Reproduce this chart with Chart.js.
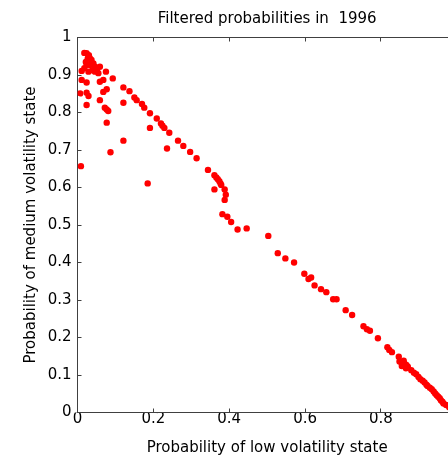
<!DOCTYPE html>
<html>
<head>
<meta charset="utf-8">
<script src="https://cdn.jsdelivr.net/npm/chart.js@4.4.1/dist/chart.umd.min.js"></script>
<style>
  html, body { margin: 0; padding: 0; background: #fff; overflow: hidden; }
  canvas { display: block; }
</style>
</head>
<body>
<canvas id="probChart" width="460" height="461"></canvas>
<script>
// filtered state probabilities, one entry per day
const lowProb = [
  0.009, 0.007, 0.011, 0.011, 0.018, 0.018, 0.024, 0.030, 0.033, 0.037,
  0.027, 0.022, 0.024, 0.033, 0.042, 0.046, 0.051, 0.055, 0.039, 0.029,
  0.059, 0.046, 0.024, 0.075, 0.093, 0.068, 0.059, 0.024, 0.029, 0.024,
  0.068, 0.077, 0.059, 0.121, 0.121, 0.072, 0.077, 0.081, 0.077, 0.121,
  0.087, 0.137, 0.150, 0.156, 0.170, 0.176, 0.191, 0.209, 0.220, 0.224,
  0.229, 0.242, 0.191, 0.265, 0.279, 0.297, 0.236, 0.314, 0.185, 0.344,
  0.361, 0.366, 0.370, 0.374, 0.377, 0.379, 0.361, 0.388, 0.391, 0.388,
  0.382, 0.395, 0.405, 0.422, 0.446, 0.503, 0.528, 0.548, 0.571, 0.598,
  0.609, 0.616, 0.625, 0.642, 0.656, 0.674, 0.683, 0.707, 0.724, 0.754,
  0.763, 0.771, 0.792, 0.817, 0.822, 0.829, 0.847, 0.849, 0.855, 0.862,
  0.867, 0.871, 0.855, 0.860, 0.866, 0.880, 0.887, 0.893, 0.899, 0.904,
  0.910, 0.915, 0.920, 0.923, 0.929, 0.934, 0.939, 0.943, 0.947, 0.951,
  0.955, 0.958, 0.962, 0.965, 0.972, 0.980, 0.990
];
const mediumProb = [
  0.657, 0.851, 0.887, 0.911, 0.918, 0.959, 0.958, 0.953, 0.944, 0.940,
  0.944, 0.935, 0.927, 0.927, 0.931, 0.922, 0.913, 0.905, 0.913, 0.909,
  0.922, 0.909, 0.880, 0.909, 0.891, 0.887, 0.882, 0.853, 0.844, 0.820,
  0.855, 0.862, 0.833, 0.867, 0.826, 0.813, 0.808, 0.804, 0.773, 0.725,
  0.694, 0.857, 0.840, 0.833, 0.823, 0.813, 0.798, 0.784, 0.771, 0.765,
  0.759, 0.746, 0.759, 0.725, 0.711, 0.695, 0.704, 0.678, 0.611, 0.647,
  0.633, 0.627, 0.622, 0.617, 0.611, 0.607, 0.595, 0.595, 0.581, 0.567,
  0.529, 0.522, 0.508, 0.488, 0.491, 0.471, 0.425, 0.411, 0.400, 0.370,
  0.356, 0.360, 0.339, 0.329, 0.321, 0.302, 0.302, 0.273, 0.260, 0.230,
  0.222, 0.218, 0.198, 0.174, 0.167, 0.161, 0.149, 0.136, 0.131, 0.131,
  0.127, 0.122, 0.124, 0.138, 0.118, 0.113, 0.106, 0.102, 0.095, 0.089,
  0.085, 0.080, 0.074, 0.071, 0.066, 0.062, 0.056, 0.051, 0.046, 0.042,
  0.038, 0.033, 0.029, 0.024, 0.020, 0.014, 0.007
];
const xTickLabels = ['0', '0.2', '0.4', '0.6', '0.8', '1'];
const yTickLabels = ['0', '0.1', '0.2', '0.3', '0.4', '0.5', '0.6', '0.7', '0.8', '0.9', '1'];

const points = lowProb.map((v, i) => ({ x: v, y: mediumProb[i] }));
const fontFamily = "'DejaVu Sans', sans-serif";
const axisColor = '#404040';

// axes box with short inward ticks on every side
const boxTicks = {
    id: 'boxTicks',
    beforeDatasetsDraw(chart) {
        const { ctx, chartArea: a, scales: { x, y } } = chart;
        ctx.save();
        ctx.strokeStyle = axisColor;
        ctx.lineWidth = 1;
        ctx.strokeRect(a.left, a.top, a.right - a.left, a.bottom - a.top);
        ctx.beginPath();
        x.ticks.forEach(t => {
            const px = Math.floor(x.getPixelForValue(t.value)) + 0.5;
            ctx.moveTo(px, a.bottom); ctx.lineTo(px, a.bottom - 4);
            ctx.moveTo(px, a.top); ctx.lineTo(px, a.top + 4);
        });
        y.ticks.forEach(t => {
            const py = Math.floor(y.getPixelForValue(t.value)) + 0.5;
            ctx.moveTo(a.left, py); ctx.lineTo(a.left + 4, py);
            ctx.moveTo(a.right, py); ctx.lineTo(a.right - 4, py);
        });
        ctx.stroke();
        ctx.restore();
    }
};

new Chart(document.getElementById('probChart'), {
    type: 'scatter',
    data: {
        datasets: [{
            data: points,
            backgroundColor: '#ff0000',
            borderWidth: 0,
            pointRadius: 3.2,
            pointHoverRadius: 3.2
        }]
    },
    options: {
        responsive: false,
        animation: false,
        layout: { padding: 0 },
        plugins: {
            legend: { display: false },
            tooltip: { enabled: false },
            title: {
                display: true,
                fullSize: false,
                text: 'Filtered probabilities in  1996',
                color: '#000',
                font: { family: fontFamily, size: 15, weight: 'normal', lineHeight: 1.2 },
                padding: { top: 10, bottom: 9.5 }
            }
        },
        scales: {
            x: {
                type: 'linear',
                min: 0,
                max: 1,
                ticks: {
                    stepSize: 0.2,
                    padding: -2,
                    color: '#000',
                    maxRotation: 0,
                    autoSkip: false,
                    font: { family: fontFamily, size: 15 },
                    callback: (v, i) => xTickLabels[i]
                },
                grid: { display: false, drawTicks: false, tickLength: 0 },
                border: { display: false },
                title: {
                    display: true,
                    text: 'Probability of low volatility state',
                    color: '#000',
                    font: { family: fontFamily, size: 15, lineHeight: 1.2 },
                    padding: { top: 0, bottom: 4 }
                },
                afterFit(scale) {
                    scale.height = 48.5;
                    scale.paddingLeft = 0;
                    scale.paddingRight = 0;
                }
            },
            y: {
                type: 'linear',
                min: 0,
                max: 1,
                ticks: {
                    stepSize: 0.1,
                    padding: 6,
                    color: '#000',
                    autoSkip: false,
                    font: { family: fontFamily, size: 15 },
                    callback: (v, i) => yTickLabels[i]
                },
                grid: { display: false, drawTicks: false, tickLength: 0 },
                border: { display: false },
                title: {
                    display: true,
                    text: 'Probability of medium volatility state',
                    color: '#000',
                    font: { family: fontFamily, size: 15, lineHeight: 1.2 },
                    padding: { top: 22, bottom: 0 }
                },
                afterFit(scale) {
                    scale.width = 77.5;
                    scale.paddingTop = 0;
                    scale.paddingBottom = 0;
                }
            }
        }
    },
    plugins: [boxTicks]
});
</script>
</body>
</html>
